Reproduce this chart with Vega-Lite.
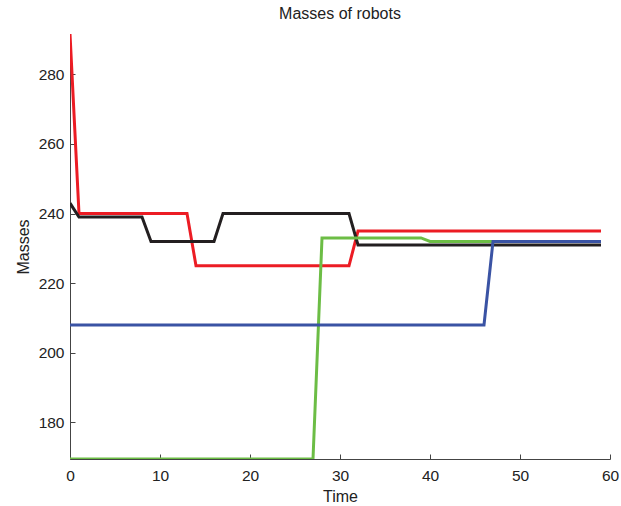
{
  "$schema": "https://vega.github.io/schema/vega-lite/v6.json",
  "width": 540,
  "height": 425,
  "padding": {"left": 70, "top": 34, "right": 11, "bottom": 47},
  "autosize": {"type": "none"},
  "background": "white",
  "title": {"text": "Masses of robots", "fontSize": 16, "font": "Liberation Sans", "fontWeight": "normal", "color": "#222", "offset": 12},
  "config": {
    "view": {"stroke": null},
    "axis": {"grid": false, "domainColor": "#444", "tickColor": "#444", "labelColor": "#222", "titleColor": "#222", "labelFont": "Liberation Sans", "titleFont": "Liberation Sans", "labelFontSize": 15.5, "titleFontSize": 16, "titleFontWeight": "normal", "tickSize": -5, "domainWidth": 1, "labelFlush": false}
  },
  "data": {"values": [
    {"robot": "red", "t": 0, "mass": 291.6},
    {"robot": "red", "t": 1, "mass": 240},
    {"robot": "red", "t": 13, "mass": 240},
    {"robot": "red", "t": 14, "mass": 225},
    {"robot": "red", "t": 31, "mass": 225},
    {"robot": "red", "t": 32, "mass": 235},
    {"robot": "red", "t": 59, "mass": 235},
    {"robot": "black", "t": 0, "mass": 243},
    {"robot": "black", "t": 1, "mass": 239},
    {"robot": "black", "t": 8, "mass": 239},
    {"robot": "black", "t": 9, "mass": 232},
    {"robot": "black", "t": 16, "mass": 232},
    {"robot": "black", "t": 17, "mass": 240},
    {"robot": "black", "t": 31, "mass": 240},
    {"robot": "black", "t": 32, "mass": 231},
    {"robot": "black", "t": 59, "mass": 231},
    {"robot": "green", "t": 0, "mass": 169.5},
    {"robot": "green", "t": 27, "mass": 169.5},
    {"robot": "green", "t": 28, "mass": 233},
    {"robot": "green", "t": 39, "mass": 233},
    {"robot": "green", "t": 40, "mass": 232},
    {"robot": "green", "t": 59, "mass": 232},
    {"robot": "blue", "t": 0, "mass": 208},
    {"robot": "blue", "t": 46, "mass": 208},
    {"robot": "blue", "t": 47, "mass": 232},
    {"robot": "blue", "t": 59, "mass": 232}
  ]},
  "mark": {"type": "line", "strokeWidth": 3, "clip": true},
  "encoding": {
    "x": {"field": "t", "type": "quantitative", "title": "Time", "scale": {"domain": [0, 60], "nice": false, "zero": false},
      "axis": {"values": [0, 10, 20, 30, 40, 50, 60], "labelPadding": 14, "titlePadding": 5}},
    "y": {"field": "mass", "type": "quantitative", "title": "Masses", "scale": {"domain": [169.5, 291.6], "nice": false, "zero": false},
      "axis": {"values": [180, 200, 220, 240, 260, 280], "labelPadding": 11, "titlePadding": 7}},
    "color": {"field": "robot", "type": "nominal", "legend": null,
      "scale": {"domain": ["red", "black", "green", "blue"], "range": ["#ec1c24", "#231f20", "#6cbd45", "#3a53a4"]}}
  }
}
